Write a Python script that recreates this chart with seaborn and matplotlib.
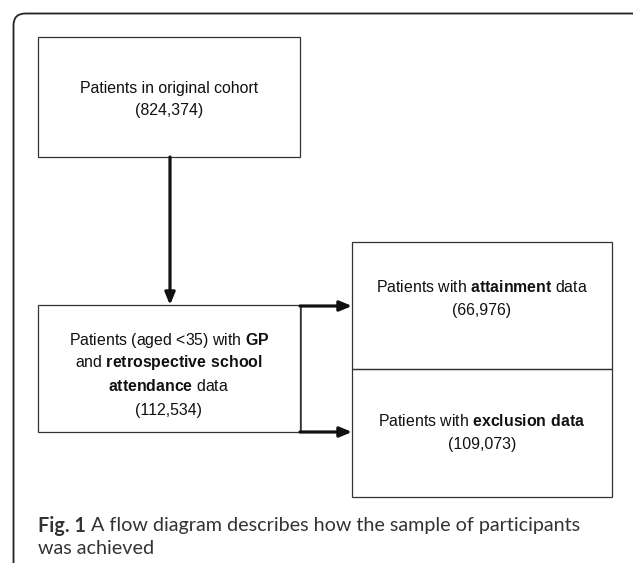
import matplotlib
matplotlib.use("Agg")
import matplotlib.pyplot as plt
import seaborn as sns
from matplotlib.patches import Rectangle, FancyBboxPatch

sns.set_theme(style="white")
plt.rcParams['font.family'] = ['Liberation Sans', 'DejaVu Sans']
plt.rcParams['mathtext.fontset'] = 'custom'
plt.rcParams['mathtext.rm'] = 'Liberation Sans'
plt.rcParams['mathtext.bf'] = 'Liberation Sans:bold'

# ---- data ----
box_names = ["cohort", "gp_school", "attainment", "exclusion"]
box_counts = ["824,374", "112,534", "66,976", "109,073"]
box_lines = [
    ["Patients in original cohort"],
    [r"Patients (aged <35) with $\mathbf{GP}$",
     r"and $\mathbf{retrospective\ school}$",
     r"$\mathbf{attendance}$ data"],
    [r"Patients with $\mathbf{attainment}$ data"],
    [r"Patients with $\mathbf{exclusion\ data}$"],
]
caption_bold = "Fig. 1"
caption_rest = [" A flow diagram describes how the sample of participants", "was achieved"]

# layout (pixel space)
W, H = 633, 563
boxes = {  # x0, y0, x1, y1
    "cohort": (38, 37, 300, 157),
    "gp_school": (38, 305, 300, 432),
    "attainment": (352, 242, 612, 369),
    "exclusion": (352, 369, 612, 497),
}
text_y = {
    "cohort": [88, 110],
    "gp_school": [340, 363, 386, 410],
    "attainment": [287, 311],
    "exclusion": [421, 445],
}

fig = plt.figure(figsize=(W / 100, H / 100), dpi=100)
ax = fig.add_axes([0, 0, 1, 1])
ax.set_xlim(0, W)
ax.set_ylim(H, 0)
ax.axis("off")

edge = "#333333"
# outer rounded frame (extends past right and bottom edges)
frame = FancyBboxPatch((13.5, 13.5), 630, 600, boxstyle="round,pad=0,rounding_size=12",
                       fill=False, ec="#222222", lw=1.3, clip_on=True)
ax.add_patch(frame)

fs = 11.4
for name, lines, count in zip(box_names, box_lines, box_counts):
    x0, y0, x1, y1 = boxes[name]
    ax.add_patch(Rectangle((x0, y0), x1 - x0, y1 - y0, fill=False, ec=edge, lw=0.9))
    cx = (x0 + x1) / 2
    all_lines = lines + [f"({count})"]
    for ln, yy in zip(all_lines, text_y[name]):
        ax.text(cx, yy, ln, ha="center", va="center", fontsize=fs, color="#111111")

arrow_kw = dict(arrowstyle="-|>,head_length=0.6,head_width=0.25", lw=2.3,
                color="#111111", mutation_scale=12, shrinkA=0, shrinkB=0)
# vertical arrow
ax.annotate("", xy=(170, 305), xytext=(170, 157), arrowprops=arrow_kw)
# connector
ax.plot([301, 301], [306, 432], color=edge, lw=1.1)
ax.annotate("", xy=(352, 306), xytext=(300, 306), arrowprops=arrow_kw)
ax.annotate("", xy=(352, 432), xytext=(300, 432), arrowprops=arrow_kw)

# caption
cap_fs = 14.2
cap_col = "#333333"
cap_fam = ["Lato", "DejaVu Sans"]
t = ax.text(38, 526, caption_bold, ha="left", va="center", fontsize=cap_fs,
            fontweight="bold", color=cap_col, family=cap_fam)
fig.canvas.draw()
bb = t.get_window_extent(renderer=fig.canvas.get_renderer())
x_end = ax.transData.inverted().transform((bb.x1, bb.y0))[0]
ax.text(x_end, 526, caption_rest[0], ha="left", va="center", fontsize=cap_fs,
        color=cap_col, family=cap_fam)
ax.text(38, 549, caption_rest[1], ha="left", va="center", fontsize=cap_fs,
        color=cap_col, family=cap_fam)

fig.savefig("out.png", dpi=100)
